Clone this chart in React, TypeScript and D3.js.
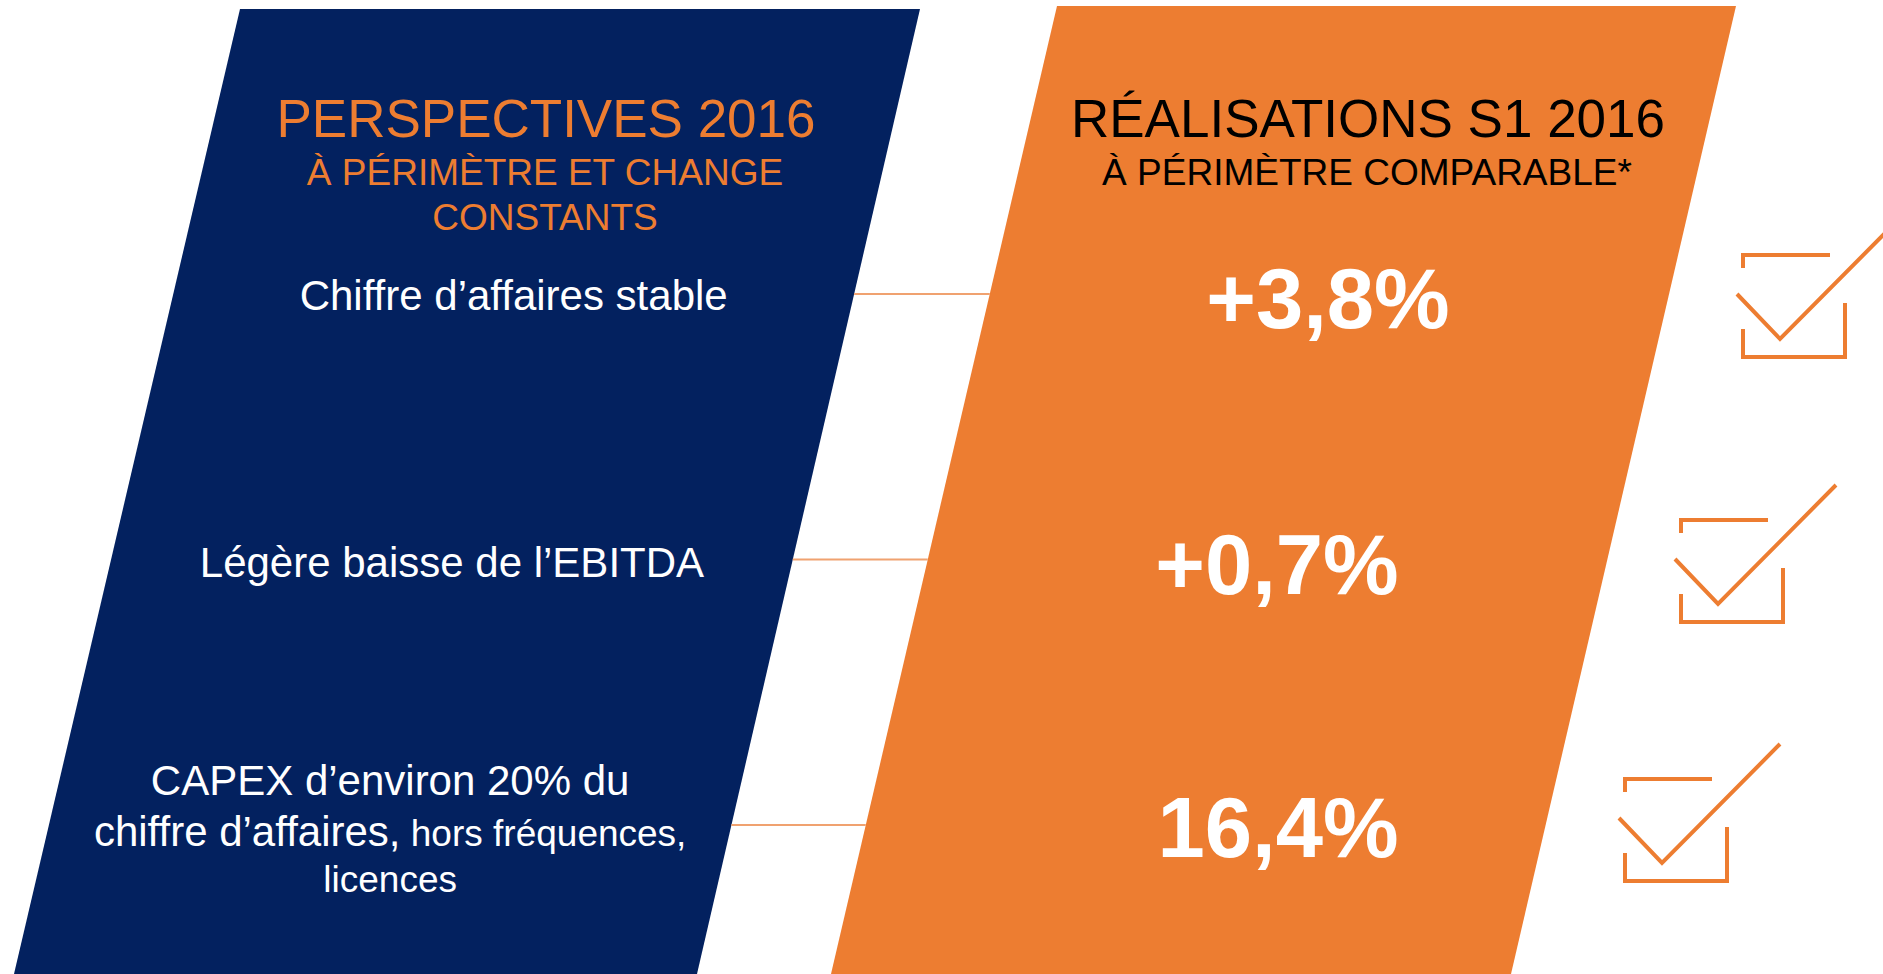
import React from "react";
import * as d3 from "d3";

const W = 1883;
const H = 974;

// ---- data ----
const leftTitle = "PERSPECTIVES 2016";
const leftSubtitle = ["À PÉRIMÈTRE ET CHANGE", "CONSTANTS"];
const rightTitle = "RÉALISATIONS S1 2016";
const rightSubtitle = ["À PÉRIMÈTRE COMPARABLE*"];
const rows = ["ca", "ebitda", "capex"];
// each line: [large part, small part]
const objectives: [string, string][][] = [
  [["Chiffre d’affaires stable", ""]],
  [["Légère baisse de l’EBITDA", ""]],
  [
    ["CAPEX d’environ 20% du", ""],
    ["chiffre d’affaires,", " hors fréquences,"],
    ["", "licences"],
  ],
];
const results = ["+3,8%", "+0,7%", "16,4%"];

// ---- layout ----
const NAVY = "#03215F";
const ORANGE = "#ED7D31";
const FONT = "'Liberation Sans', Arial, Helvetica, sans-serif";
const OBJ_BASELINES = [[16], [17], [-30, 21, 67]];
const VALUE_X = [1328, 1277, 1278];
const VALUE_DY = [34, 34, 32];
const CHECK_POS: [number, number][] = [
  [1743, 255],
  [1681, 520],
  [1625, 779],
];

export default function App() {
  const rowY = d3.scalePoint<string>().domain(rows).range([294, 825]);
  const navyL = d3.scaleLinear().domain([9, 974]).range([240, 14]);
  const navyR = d3.scaleLinear().domain([9, 974]).range([920, 697]);
  const orL = d3.scaleLinear().domain([6, 974]).range([1057, 831]);
  const orR = d3.scaleLinear().domain([6, 974]).range([1736, 1511]);

  const poly = (l: d3.ScaleLinear<number, number>, r: d3.ScaleLinear<number, number>, y0: number) => {
    const p = d3.path();
    p.moveTo(l(y0), y0);
    p.lineTo(r(y0), y0);
    p.lineTo(r(H), H);
    p.lineTo(l(H), H);
    p.closePath();
    return p.toString();
  };

  const navyCenter = (y: number) => (navyL(y) + navyR(y)) / 2;

  return (
    <svg
      width={W}
      height={H}
      style={{ position: "absolute", left: 0, top: 0, background: "#fff" }}
      fontFamily={FONT}
    >
      <path d={poly(navyL, navyR, 9)} fill={NAVY} />
      <path d={poly(orL, orR, 6)} fill={ORANGE} />

      {/* connectors */}
      {rows.map((r) => {
        const y = rowY(r)!;
        return (
          <line
            key={r}
            x1={navyR(y)}
            x2={orL(y)}
            y1={y}
            y2={y}
            stroke="#F0A270"
            strokeWidth={2}
          />
        );
      })}

      {/* left titles */}
      <text x={546} y={137} textAnchor="middle" fontSize={53} fill={ORANGE}>
        {leftTitle}
      </text>
      {leftSubtitle.map((s, i) => (
        <text key={s} x={545} y={185 + i * 45} textAnchor="middle" fontSize={37} fill={ORANGE}>
          {s}
        </text>
      ))}

      {/* right titles */}
      <text x={1368} y={137} textAnchor="middle" fontSize={53} fill="#000">
        {rightTitle}
      </text>
      {rightSubtitle.map((s) => (
        <text key={s} x={1367} y={185} textAnchor="middle" fontSize={37} fill="#000">
          {s}
        </text>
      ))}

      {/* objectives */}
      {rows.map((r, i) => {
        const y = rowY(r)!;
        const cx = navyCenter(y);
        return objectives[i].map((line, j) => (
          <text
            key={r + j}
            x={cx}
            y={y + OBJ_BASELINES[i][j]}
            textAnchor="middle"
            fill="#fff"
            fontSize={42}
          >
            {line[0] && <tspan fontSize={42}>{line[0]}</tspan>}
            {line[1] && <tspan fontSize={37} style={{ whiteSpace: "pre" }}>{line[1]}</tspan>}
          </text>
        ));
      })}

      {/* results */}
      {rows.map((r, i) => (
        <text
          key={r}
          x={VALUE_X[i]}
          y={rowY(r)! + VALUE_DY[i]}
          textAnchor="middle"
          fontSize={85}
          fontWeight="bold"
          fill="#fff"
        >
          {results[i]}
        </text>
      ))}

      {/* check boxes */}
      {CHECK_POS.map(([x, y], i) => (
        <g key={i} transform={`translate(${x},${y})`} fill="none" stroke={ORANGE} strokeWidth={4}>
          <path d="M87,0 H0 V13 M0,74 V102 H102 V48" strokeLinejoin="miter" />
          <path d="M-6,39 L37,84 L155,-35" strokeLinejoin="miter" />
        </g>
      ))}
    </svg>
  );
}
